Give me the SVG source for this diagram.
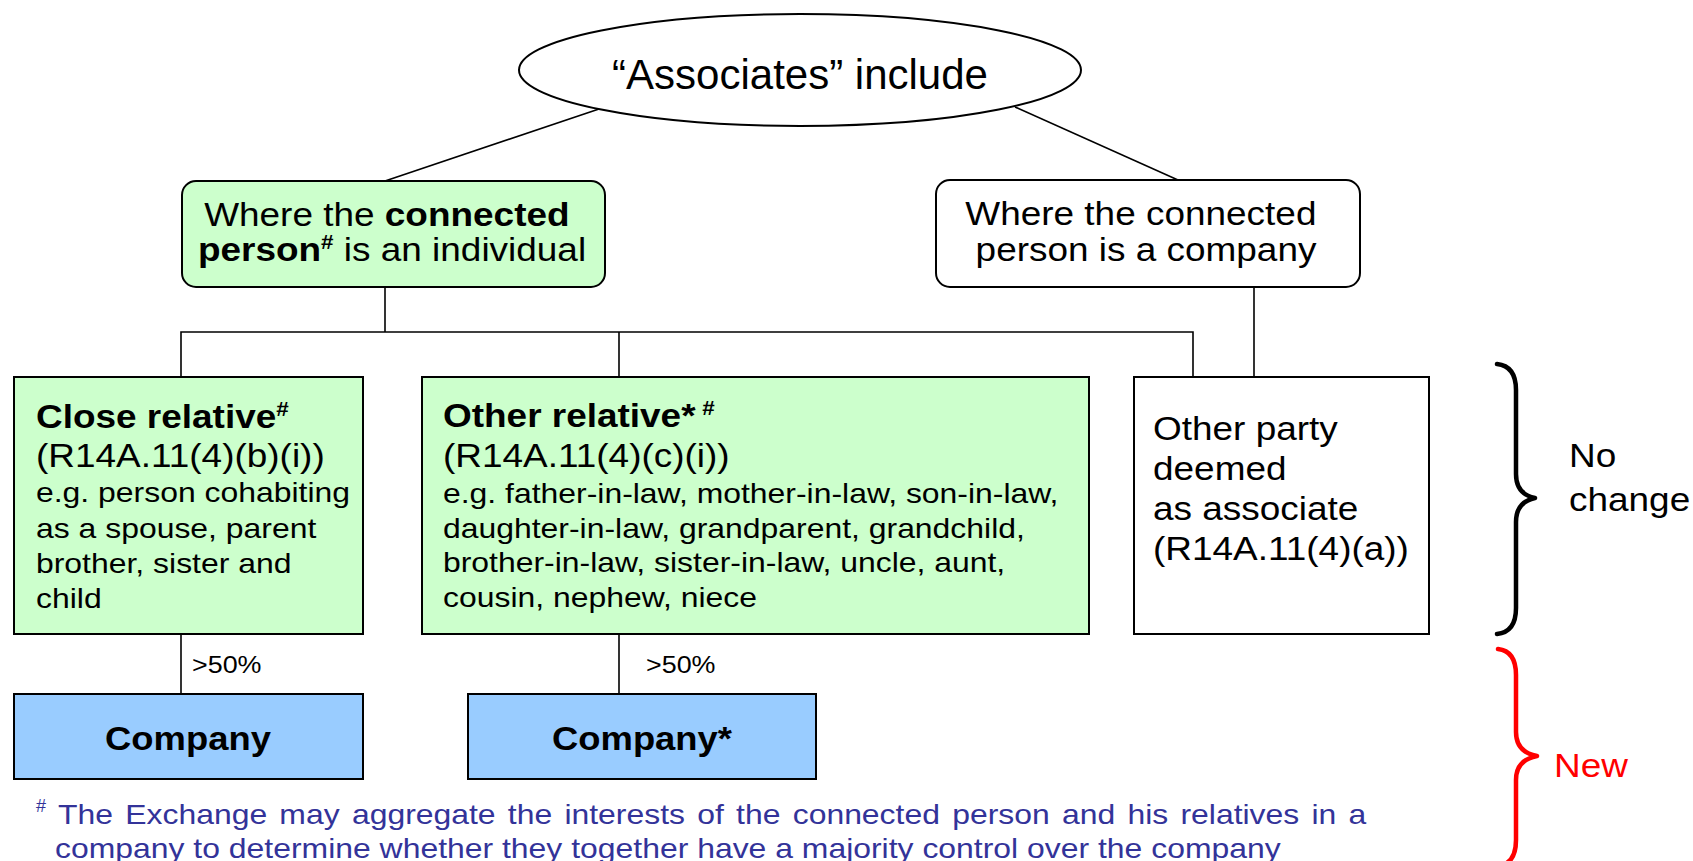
<svg xmlns="http://www.w3.org/2000/svg" width="1693" height="861" viewBox="0 0 1693 861">
  <style>
    text { font-family: "Liberation Sans", Arial, sans-serif; fill: #000; stroke: none; }
    .box { stroke: #000; stroke-width: 2; }
    .green { fill: #CCFFCC; }
    .blue { fill: #99CCFF; }
    .white { fill: #FFFFFF; }
    .hdr { font-size: 33px; }
    .body { font-size: 28.5px; }
    .b { font-weight: bold; }
    .sup { font-size: 20px; font-weight: bold; }
    .pct { font-size: 24px; }
    .comp { font-size: 32.5px; font-weight: bold; }
    .note { font-size: 28.5px; fill: #333399; }
    .conn { stroke: #000; stroke-width: 1.6; fill: none; }
    .brace { fill: none; stroke-width: 4.5; stroke-linecap: round; stroke-linejoin: round; }
  </style>

  <!-- connectors -->
  <g id="connectors" class="conn">
    <line x1="599" y1="109" x2="385" y2="181"/>
    <line x1="1015" y1="107" x2="1178" y2="180"/>
    <line x1="385" y1="287" x2="385" y2="332"/>
    <polyline points="181,377 181,332 1193,332 1193,377"/>
    <line x1="619" y1="332" x2="619" y2="377"/>
    <line x1="1254" y1="287" x2="1254" y2="377"/>
    <line x1="181" y1="634" x2="181" y2="694"/>
    <line x1="619" y1="634" x2="619" y2="694"/>
  </g>
  <g id="connector-labels">
    <text class="pct" transform="translate(192 673) scale(1.12 1)">&gt;50%</text>
    <text class="pct" transform="translate(646 673) scale(1.12 1)">&gt;50%</text>
  </g>

  <!-- root -->
  <g id="associates">
    <ellipse cx="800" cy="70" rx="281" ry="56" fill="#fff" stroke="#000" stroke-width="2"/>
    <text x="800" y="89" font-size="42" text-anchor="middle">“Associates” include</text>
  </g>

  <g id="individual">
    <rect class="box green" x="182" y="181" width="423" height="106" rx="14"/>
    <text class="hdr" text-anchor="middle" transform="translate(392 226) scale(1.12 1)">
      <tspan x="0" y="0">Where the <tspan class="b">connected</tspan></tspan>
      <tspan x="0" y="35"><tspan class="b">person</tspan><tspan class="sup" dy="-12">#</tspan><tspan dy="12"> is an individual</tspan></tspan>
    </text>
  </g>

  <g id="company-person">
    <rect class="box white" x="936" y="180" width="424" height="107" rx="14"/>
    <text class="hdr" text-anchor="middle" transform="translate(1146 225) scale(1.12 1)">
      <tspan x="0" y="0">Where the connected</tspan>
      <tspan x="0" y="36">person is a company</tspan>
    </text>
  </g>

  <g id="close-relative">
    <rect class="box green" x="14" y="377" width="349" height="257"/>
    <text transform="translate(36 428) scale(1.12 1)">
      <tspan class="hdr b" x="0" y="0">Close relative</tspan><tspan class="sup" dy="-12">#</tspan>
      <tspan class="hdr" x="0" y="39">(R14A.11(4)(b)(i))</tspan>
      <tspan class="body" x="0" y="74">e.g. person cohabiting</tspan>
      <tspan class="body" x="0" y="110">as a spouse, parent</tspan>
      <tspan class="body" x="0" y="145">brother, sister and</tspan>
      <tspan class="body" x="0" y="180">child</tspan>
    </text>
  </g>

  <g id="other-relative">
    <rect class="box green" x="422" y="377" width="667" height="257"/>
    <text transform="translate(443 427) scale(1.12 1)">
      <tspan class="hdr b" x="0" y="0">Other relative</tspan><tspan class="hdr" style="font-weight:bold">*</tspan><tspan class="sup" dx="6" dy="-12">#</tspan>
      <tspan class="hdr" x="0" y="40">(R14A.11(4)(c)(i))</tspan>
      <tspan class="body" x="0" y="76">e.g. father-in-law, mother-in-law, son-in-law,</tspan>
      <tspan class="body" x="0" y="111">daughter-in-law, grandparent, grandchild,</tspan>
      <tspan class="body" x="0" y="145">brother-in-law, sister-in-law, uncle, aunt,</tspan>
      <tspan class="body" x="0" y="180">cousin, nephew, niece</tspan>
    </text>
  </g>

  <g id="other-party">
    <rect class="box white" x="1134" y="377" width="295" height="257"/>
    <text class="hdr" transform="translate(1153 440) scale(1.12 1)">
      <tspan x="0" y="0">Other party</tspan>
      <tspan x="0" y="40">deemed</tspan>
      <tspan x="0" y="80">as associate</tspan>
      <tspan x="0" y="120">(R14A.11(4)(a))</tspan>
    </text>
  </g>

  <g id="company-close">
    <rect class="box blue" x="14" y="694" width="349" height="85"/>
    <text class="comp" text-anchor="middle" transform="translate(188 750) scale(1.12 1)">Company</text>
  </g>

  <g id="company-other">
    <rect class="box blue" x="468" y="694" width="348" height="85"/>
    <text class="comp" text-anchor="middle" transform="translate(642 750) scale(1.12 1)">Company*</text>
  </g>

  <!-- side brackets -->
  <g id="no-change">
    <path class="brace" stroke="#000" d="M1497,364 Q1516,366 1516,390 L1516,474 Q1516,494 1535,498 Q1516,502 1516,522 L1516,608 Q1516,632 1497,634"/>
    <text class="hdr" transform="translate(1569 467) scale(1.12 1)">
      <tspan x="0" y="0">No</tspan>
      <tspan x="0" y="44">change</tspan>
    </text>
  </g>

  <g id="new">
    <path class="brace" stroke="#FF0000" d="M1498,649 Q1516,651 1516,675 L1516,732 Q1516,752 1537,756 Q1516,760 1516,780 L1516,840 Q1516,864 1498,866"/>
    <text class="hdr" style="fill:#FF0000" transform="translate(1554 777) scale(1.12 1)">New</text>
  </g>

  <!-- footnote -->
  <g id="footnote">
    <text class="note" style="font-size:18px" x="36" y="812">#</text>
    <text class="note" transform="translate(58 824) scale(1.12 1)" word-spacing="3">The Exchange may aggregate the interests of the connected person and his relatives in a</text>
    <text class="note" transform="translate(55 858) scale(1.12 1)">company to determine whether they together have a majority control over the company</text>
  </g>
</svg>
